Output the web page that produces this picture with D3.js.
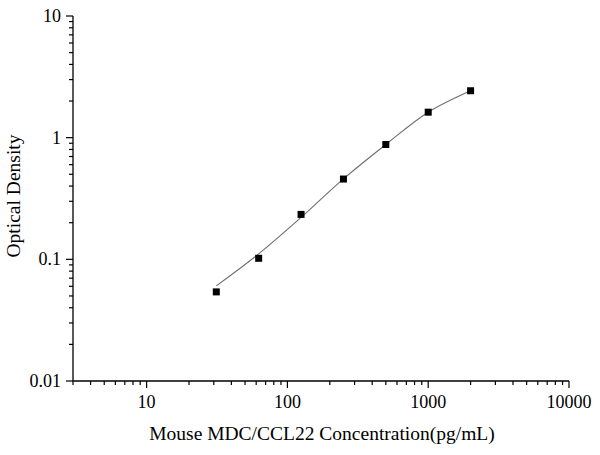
<!DOCTYPE html>
<html>
<head>
<meta charset="utf-8">
<script src="https://cdn.jsdelivr.net/npm/d3@7/dist/d3.min.js"></script>
<style>
html,body{margin:0;padding:0;background:#fff;}
</style>
</head>
<body>
<svg id="chart" width="600" height="455"></svg>
<script>
// Data
const concentrations = [31.25, 62.5, 125, 250, 500, 1000, 2000];
const odValues = [0.054, 0.102, 0.234, 0.457, 0.879, 1.62, 2.43];
// Fitted curve as drawn (at the same concentrations)
const fitValues = [0.0605, 0.111, 0.221, 0.458, 0.879, 1.62, 2.43];
const xTickValues = [10, 100, 1000, 10000];
const yTickValues = [0.01, 0.1, 1, 10];
const xDomain = [3, 10000];
const yDomain = [0.01, 10];

(function(){
const FONT = "'Liberation Serif', 'Times New Roman', 'DejaVu Serif', serif";
const FS = "18px";
const FST = "19.5px";
const svg = d3.select("#chart");
const padL = 73, padR = 569, padT = 16, padB = 381;

const x = d3.scaleLog().domain(xDomain).range([padL, padR]);
const y = d3.scaleLog().domain(yDomain).range([padB, padT]);

function minorTicks(domain){
  const out = [];
  const lo = Math.floor(Math.log10(domain[0])), hi = Math.ceil(Math.log10(domain[1]));
  for (let e = lo; e < hi; e++) {
    for (let m = 2; m <= 9; m++) {
      const v = m * Math.pow(10, e);
      if (v >= domain[0] && v <= domain[1]) out.push(v);
    }
  }
  return out;
}

// X axis
const gx = svg.append("g").attr("transform", `translate(0,${padB})`);
gx.append("line").attr("x1", padL).attr("x2", padR).attr("stroke", "#000").attr("stroke-width", 1.3);
gx.selectAll(".minor").data(minorTicks(xDomain)).enter().append("line")
  .attr("x1", d => x(d)).attr("x2", d => x(d)).attr("y1", 0).attr("y2", 4)
  .attr("stroke", "#000").attr("stroke-width", 1.2);
gx.selectAll(".major").data(xTickValues).enter().append("line")
  .attr("x1", d => x(d)).attr("x2", d => x(d)).attr("y1", 0).attr("y2", 7)
  .attr("stroke", "#000").attr("stroke-width", 1.2);
gx.selectAll(".lbl").data(xTickValues).enter().append("text")
  .attr("x", d => x(d)).attr("y", 27).attr("text-anchor", "middle")
  .attr("font-family", FONT).attr("font-size", FS).attr("fill", "#000").text(d => d);

// Y axis
const gy = svg.append("g").attr("transform", `translate(${padL},0)`);
gy.append("line").attr("y1", padT).attr("y2", padB).attr("stroke", "#000").attr("stroke-width", 1.3);
gy.selectAll(".minor").data(minorTicks(yDomain)).enter().append("line")
  .attr("y1", d => y(d)).attr("y2", d => y(d)).attr("x1", 0).attr("x2", -4)
  .attr("stroke", "#000").attr("stroke-width", 1.2);
gy.selectAll(".major").data(yTickValues).enter().append("line")
  .attr("y1", d => y(d)).attr("y2", d => y(d)).attr("x1", 0).attr("x2", -7)
  .attr("stroke", "#000").attr("stroke-width", 1.2);
gy.selectAll(".lbl").data(yTickValues).enter().append("text")
  .attr("x", -12).attr("y", d => y(d) + 6).attr("text-anchor", "end")
  .attr("font-family", FONT).attr("font-size", FS).attr("fill", "#000").text(d => d);

// Axis titles
svg.append("text").attr("x", 322).attr("y", 440).attr("text-anchor", "middle")
  .attr("font-family", FONT).attr("font-size", FST).attr("fill", "#000")
  .text("Mouse MDC/CCL22 Concentration(pg/mL)");
svg.append("text").attr("transform", "translate(20,196) rotate(-90)")
  .attr("text-anchor", "middle").attr("font-family", FONT).attr("font-size", FST).attr("fill", "#000")
  .text("Optical Density");

// Fitted curve
const fitData = concentrations.map((c, i) => [c, fitValues[i]]);
const line = d3.line().x(d => x(d[0])).y(d => y(d[1])).curve(d3.curveCatmullRom.alpha(0.5));
svg.append("path").datum(fitData).attr("d", line)
  .attr("fill", "none").attr("stroke", "#6e6e6e").attr("stroke-width", 1.1);

// Markers
const s = 7;
svg.selectAll(".pt").data(concentrations.map((c, i) => [c, odValues[i]])).enter().append("rect")
  .attr("x", d => x(d[0]) - s / 2).attr("y", d => y(d[1]) - s / 2)
  .attr("width", s).attr("height", s).attr("fill", "#000");
})();
</script>
</body>
</html>
